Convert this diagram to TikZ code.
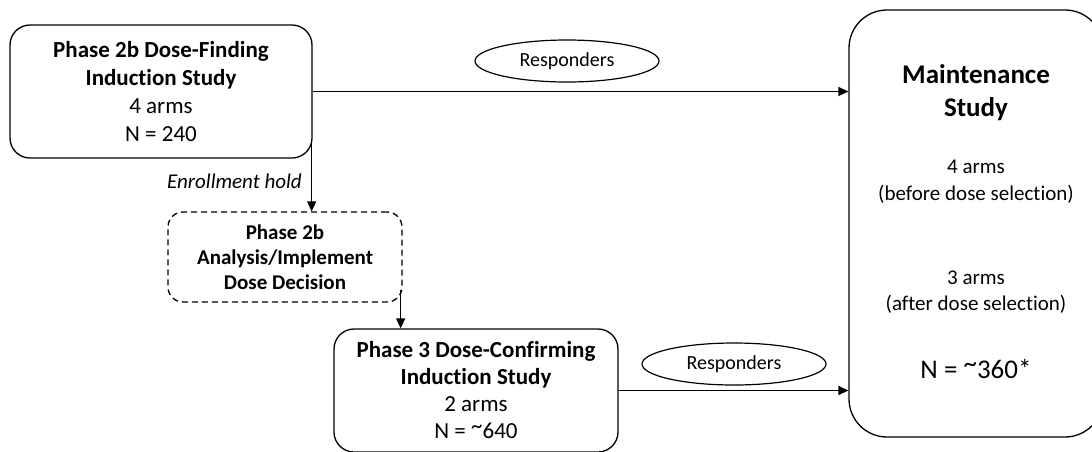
\documentclass[tikz,border=0pt]{standalone}
\usepackage{fontspec}
\setmainfont{Carlito}[Ligatures=NoCommon]
\usetikzlibrary{arrows.meta,shapes.geometric}
\newcommand{\hitilde}{\raisebox{0.22em}{\textasciitilde}}
\begin{document}
\begin{tikzpicture}[x=1pt,y=-1pt,
  box/.style={draw, line width=1.3pt, rounded corners=20pt, align=center, inner sep=0pt},
  arr/.style={line width=1.3pt, -{Triangle[length=10pt,width=9pt]}},
  resp/.style={draw, ellipse, line width=1.2pt, minimum width=184pt, minimum height=42pt, inner sep=0pt, font=\fontsize{20}{24}\selectfont},
  mtxt/.style={anchor=base, font=\fontsize{21}{25}\selectfont, inner sep=0pt}]
\useasboundingbox (0,0) rectangle (1092,451);
\node[box, minimum width=302pt, minimum height=133pt, font=\fontsize{23}{27.7}\selectfont] (p2b) at (161,91.5)
  {\textbf{Phase 2b Dose-Finding}\\\textbf{Induction Study}\\4 arms\\N = 240};
\node[box, dashed, dash pattern=on 6pt off 4pt, rounded corners=15pt, minimum width=234pt, minimum height=90pt, font=\bfseries\fontsize{21}{25}\selectfont] (dec) at (285,257)
  {Phase 2b\\Analysis/Implement\\Dose Decision};
\node[box, minimum width=284pt, minimum height=123pt, font=\fontsize{23}{27}\selectfont] (p3) at (476,390.5)
  {\textbf{Phase 3 Dose-Confirming}\\\textbf{Induction Study}\\2 arms\\N = \hitilde 640};
\node[box, rounded corners=38pt, minimum width=254pt, minimum height=427pt] (maint) at (976,223.5) {};
\node[mtxt, font=\bfseries\fontsize{27}{32}\selectfont] (m1) at (976,83) {Maintenance};
\node[mtxt, font=\bfseries\fontsize{27}{32}\selectfont] (m2) at (976,116) {Study};
\node[mtxt] (m3) at (976,173) {4 arms};
\node[mtxt] (m4) at (976,200) {(before dose selection)};
\node[mtxt] (m5) at (976,284) {3 arms};
\node[mtxt] (m6) at (976,310) {(after dose selection)};
\node[mtxt, font=\fontsize{27}{32}\selectfont] (m7) at (976,378) {N = \hitilde 360*};
\node[resp] (r1) at (567,61) {Responders};
\node[resp] (r2) at (734,364) {Responders};
\node[anchor=base east, inner sep=0pt, font=\itshape\fontsize{21}{25}\selectfont] (hold) at (302,188) {Enrollment hold};
\coordinate (b1) at ([xshift=-1pt,yshift=-49pt]p2b.east);
\coordinate (d1) at ([xshift=-2pt,yshift=-33pt]dec.east);
\draw[arr] (p2b.east) -- (p2b.east -| maint.west);
\draw[arr] (b1) -- (b1 |- dec.north);
\draw[arr] (d1) -- (d1 |- p3.north);
\draw[arr] (p3.east) -- (p3.east -| maint.west);
\end{tikzpicture}
\end{document}
